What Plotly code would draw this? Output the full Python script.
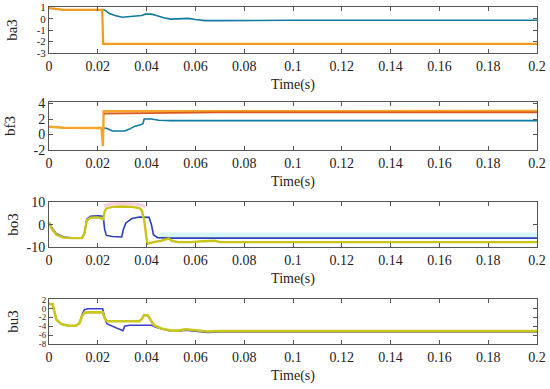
import plotly.graph_objects as go

# ---------------- data ----------------
x_ticks = [0, 0.02, 0.04, 0.06, 0.08, 0.1, 0.12, 0.14, 0.16, 0.18, 0.2]
x_tick_labels = ["0", "0.02", "0.04", "0.06", "0.08", "0.1", "0.12", "0.14", "0.16", "0.18", "0.2"]

# ba3
ba3_orange_t = [0, 0.003, 0.006, 0.0218, 0.0222, 0.2]
ba3_orange_y = [0.95, 0.88, 0.8, 0.8, -2.2, -2.2]
ba3_blue_t = [0.0222, 0.0232, 0.0245, 0.027, 0.03, 0.033, 0.036, 0.038, 0.0395, 0.042, 0.044,
              0.047, 0.05, 0.054, 0.057, 0.06, 0.064, 0.07, 0.08, 0.1, 0.2]
ba3_blue_y = [0.8, 0.75, 0.5, 0.3, 0.15, 0.22, 0.28, 0.3, 0.42, 0.42, 0.3,
              0.1, -0.02, 0.05, 0.05, -0.05, -0.15, -0.15, -0.12, -0.12, -0.12]

# bf3
bf3_orange_t = [0, 0.003, 0.006, 0.0215, 0.0218, 0.0221, 0.0224, 0.03, 0.05, 0.2]
bf3_orange_y = [1.0, 0.95, 0.88, 0.85, -1.5, -1.5, 3.0, 3.0, 3.05, 3.05]
bf3_red_t = [0.0224, 0.03, 0.04, 0.05, 0.07, 0.2]
bf3_red_y = [2.7, 2.72, 2.78, 2.85, 2.85, 2.85]
bf3_blue_t = [0.0222, 0.0235, 0.026, 0.029, 0.031, 0.033, 0.035, 0.0378, 0.0385, 0.039, 0.042, 0.045, 0.05, 0.2]
bf3_blue_y = [0.85, 0.8, 0.45, 0.42, 0.45, 0.7, 1.05, 1.3, 1.4, 2.0, 2.0, 1.85, 1.8, 1.8]

# bo3
bo3_cyan_t = [0.045, 0.05, 0.2]
bo3_cyan_y = [-4.6, -4.6, -4.6]
bo3_pink_t = [0.0225, 0.025, 0.03, 0.035, 0.038, 0.0395]
bo3_pink_y = [8.5, 9.3, 9.5, 9.3, 8.8, 8.0]
bo3_blue_t = [0, 0.001, 0.003, 0.006, 0.01, 0.0135, 0.0145, 0.0155, 0.017, 0.02, 0.0222, 0.0228, 0.0235,
              0.026, 0.0298, 0.0305, 0.0315, 0.034, 0.037, 0.041, 0.042, 0.0428, 0.0445, 0.05, 0.2]
bo3_blue_y = [1.0, -1.0, -4.0, -5.5, -6.0, -6.0, -4.0, 2.5, 3.8, 4.0, 3.8, -2.0, -4.8,
              -5.3, -5.5, -2.0, 0.8, 2.8, 3.5, 3.3, 0.0, -4.5, -5.8, -6.0, -6.0]
bo3_yellow_t = [0, 0.001, 0.003, 0.006, 0.01, 0.0135, 0.0145, 0.0155, 0.017, 0.02, 0.0222, 0.0228,
                0.0235, 0.026, 0.03, 0.034, 0.037, 0.038, 0.039, 0.0403, 0.043, 0.046, 0.049, 0.0505,
                0.053, 0.058, 0.063, 0.068, 0.07, 0.08, 0.2]
bo3_yellow_y = [1.0, -1.5, -4.5, -5.8, -6.0, -6.0, -4.0, 2.0, 3.2, 3.3, 2.5, 6.0,
                7.3, 8.0, 8.2, 8.0, 7.5, 6.5, 2.0, -8.5, -7.8, -7.2, -6.2, -7.3,
                -7.8, -7.8, -7.4, -7.2, -7.8, -7.8, -7.8]

# bu3
bu3_blue_t = [0, 0.0015, 0.003, 0.005, 0.008, 0.011, 0.0125, 0.0135, 0.0145, 0.016, 0.022, 0.0228,
              0.0238, 0.027, 0.0303, 0.031, 0.033, 0.042, 0.0435, 0.046, 0.05, 0.053, 0.056, 0.06,
              0.065, 0.07, 0.2]
bu3_blue_y = [1.0, 0.9, -2.5, -3.5, -3.9, -3.9, -3.3, -1.5, -0.3, -0.1, -0.1, -2.0,
              -3.5, -4.3, -5.0, -4.0, -3.8, -3.8, -4.2, -4.6, -5.1, -5.1, -4.9, -5.1,
              -5.4, -5.3, -5.3]
bu3_yellow_t = [0, 0.0015, 0.003, 0.005, 0.008, 0.011, 0.0125, 0.0135, 0.0145, 0.016, 0.022, 0.0228,
                0.0238, 0.03, 0.037, 0.038, 0.039, 0.0405, 0.0415, 0.043, 0.046, 0.05, 0.053,
                0.056, 0.06, 0.065, 0.07, 0.2]
bu3_yellow_y = [1.0, 0.9, -2.5, -3.5, -3.9, -3.9, -3.3, -1.8, -1.0, -0.9, -0.9, -2.2,
                -2.9, -2.9, -2.9, -2.4, -1.5, -1.6, -2.5, -3.8, -4.5, -5.0, -5.0,
                -4.7, -4.9, -5.2, -5.1, -5.1]

# ---------------- figure ----------------
FONT = "Liberation Serif, Times New Roman, serif"
fig = go.Figure()

def add(t, y, color, axis, width=1.6):
    fig.add_trace(go.Scatter(x=t, y=y, mode="lines", line=dict(color=color, width=width),
                             xaxis="x" + axis, yaxis="y" + axis, showlegend=False,
                             hoverinfo="skip"))

add(ba3_blue_t, ba3_blue_y, "#12799f", "")
add(ba3_orange_t, ba3_orange_y, "#f29a1f", "", 2.2)

add(bf3_blue_t, bf3_blue_y, "#12799f", "2")
add(bf3_orange_t, bf3_orange_y, "#f4a52a", "2", 2.4)
add(bf3_red_t, bf3_red_y, "#de5a1c", "2", 1.8)

add(bo3_cyan_t, bo3_cyan_y, "#d4f6fa", "3", 5)
add(bo3_pink_t, bo3_pink_y, "#f6d0dc", "3", 3)
add(bo3_blue_t, bo3_blue_y, "#2d3fb5", "3", 1.6)
add(bo3_yellow_t, bo3_yellow_y, "#c8c41c", "3", 2.4)

add(bu3_blue_t, bu3_blue_y, "#3b3ec4", "4", 1.6)
add(bu3_yellow_t, bu3_yellow_y, "#c9c620", "4", 2.6)

H = 389.0
def dom(top, bottom):
    return [1 - bottom / H, 1 - top / H]

panels = [
    ("", "ba3", dom(7, 53), [-3, 1.05], [-3, -2, -1, 0, 1], 11, 15),
    ("2", "bf3", dom(102, 150), [-2, 4.2], [-2, 0, 2, 4], 14, 14),
    ("3", "bo3", dom(202, 247), [-10, 10.2], [-10, 0, 10], 14, 4),
    ("4", "bu3", dom(299, 344), [-8, 2.1], [-8, -6, -4, -2, 0, 2], 9, 16),
]

axis_common = dict(showgrid=False, zeroline=False, showline=True, linecolor="#555555",
                   linewidth=1, mirror="ticks", ticks="inside", ticklen=4,
                   tickcolor="#555555", automargin=False)

xdom = [49 / 550, 537 / 550]
for ax, name, ydom, yr, yt, yfs, stand in panels:
    fig.layout["xaxis" + ax] = dict(domain=xdom, range=[0, 0.2], anchor="y" + ax,
                                    tickvals=x_ticks, ticktext=x_tick_labels,
                                    tickfont=dict(family=FONT, size=14, color="#222"),
                                    title=dict(text="Time(s)", standoff=6,
                                               font=dict(family=FONT, size=14, color="#222")),
                                    **axis_common)
    fig.layout["yaxis" + ax] = dict(domain=ydom, range=yr, anchor="x" + ax,
                                    tickvals=yt, ticktext=[str(v) for v in yt],
                                    tickfont=dict(family=FONT, size=yfs, color="#222"),
                                    title=dict(text=name, standoff=stand,
                                               font=dict(family=FONT, size=15, color="#222")),
                                    **axis_common)

fig.update_layout(width=550, height=389, margin=dict(l=0, r=0, t=0, b=0),
                  paper_bgcolor="white", plot_bgcolor="white")

fig.write_html("out.html", config={"displayModeBar": False},
               post_script="document.body.style.margin='0px';document.body.style.overflow='hidden';")
